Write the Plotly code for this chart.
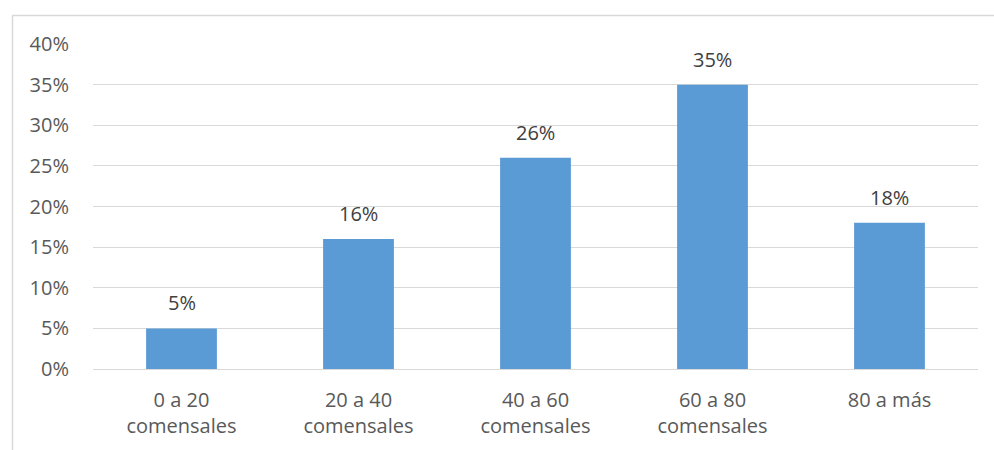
import plotly.graph_objects as go

categories = ["0 a 20<br>comensales", "20 a 40<br>comensales", "40 a 60<br>comensales",
              "60 a 80<br>comensales", "80 a más"]
values = [5, 16, 26, 35, 18]
labels = ["5%", "16%", "26%", "35%", "18%"]
y_ticks = [0, 5, 10, 15, 20, 25, 30, 35, 40]
y_tick_labels = ["0%", "5%", "10%", "15%", "20%", "25%", "30%", "35%", "40%"]

L, R, T, B = 93, 16, 44, 81
W, H = 994, 450
pw, ph = W - L - R, H - T - B

fig = go.Figure(go.Bar(
    x=categories, y=values,
    marker=dict(color="#5b9bd5", line=dict(width=0)),
    hoverinfo="skip",
))

for c, v, t in zip(categories, values, labels):
    fig.add_annotation(x=c, y=v, text=t, showarrow=False, yanchor="bottom",
                       yshift=10, font=dict(size=20, color="#404040"))

def px_x(p):
    return (p - L) / pw

def px_y(p):
    return (H - B - p) / ph

fig.update_layout(
    width=W, height=H,
    margin=dict(l=L, r=R, t=T, b=B),
    paper_bgcolor="white", plot_bgcolor="white",
    font=dict(family="Open Sans, Liberation Sans, sans-serif", size=20, color="#595959"),
    bargap=0.6,
    showlegend=False,
    xaxis=dict(showgrid=False, showline=False, ticks="", ticklabelstandoff=17,
               tickfont=dict(size=20, color="#595959")),
    yaxis=dict(range=[0, 40], tickvals=y_ticks, ticktext=y_tick_labels,
               showgrid=True, gridcolor="#d9d9d9", gridwidth=1,
               zeroline=True, zerolinecolor="#d9d9d9", zerolinewidth=1,
               showline=False, ticks="", ticklabelstandoff=23,
               tickfont=dict(size=20, color="#595959")),
    shapes=[
        dict(type="line", xref="paper", yref="paper", x0=px_x(12), x1=px_x(994),
             y0=px_y(15.5), y1=px_y(15.5), line=dict(color="#d9d9d9", width=1.5)),
        dict(type="line", xref="paper", yref="paper", x0=px_x(12.5), x1=px_x(12.5),
             y0=px_y(15.5), y1=px_y(450), line=dict(color="#d9d9d9", width=1.5)),
    ],
)

fig.write_html("out.html")
